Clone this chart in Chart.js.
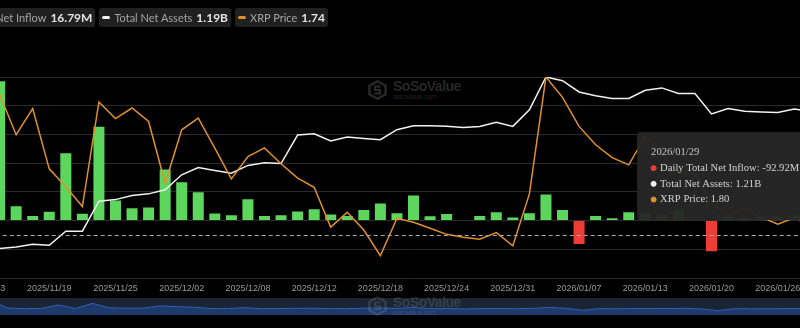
<!DOCTYPE html>
<html>
<head>
<meta charset="utf-8">
<title>XRP Spot ETF Total Net Inflow</title>
<script src="https://cdn.jsdelivr.net/npm/chart.js@4.4.1/dist/chart.umd.min.js"></script>
<style>
  html, body { margin: 0; padding: 0; background: #000; }
  body { width: 800px; height: 328px; overflow: hidden; position: relative; font-family: Lato, sans-serif; }
  #main { position: absolute; left: -26px; top: 0; z-index: 1; }
  #zoomBar { position: absolute; left: -26px; top: 298px; background: #1b2434; }
  .mark { position: absolute; display: flex; align-items: flex-start; pointer-events: none; }
  .mark svg { margin-right: 6px; }
  .mark .big { font-family: "Liberation Sans", sans-serif; font-weight: 700; font-size: 14px; line-height: 13px; letter-spacing: -0.5px; }
  .mark .small { font-family: "Liberation Sans", sans-serif; font-size: 6.5px; line-height: 7px; }
  #legend { position: absolute; top: 8px; right: 472px; display: flex; gap: 4px; z-index: 2; }
  .pill { display: flex; align-items: center; height: 19px; padding: 0 3px; background: #202020; border-radius: 3px; white-space: nowrap; }
  .pill .marker { width: 8px; height: 3.5px; border-radius: 2px; margin-right: 4px; }
  .pill .marker.square { width: 7px; height: 7px; border-radius: 1px; }
  .pill .name { font-size: 11px; color: #a3a3a3; margin-right: 4px; }
  .pill .value { font-size: 12px; font-weight: 700; color: #e4e4e4; }
</style>
</head>
<body>
<div id="legend"></div>

<div class="mark" style="left:368px; top:80px; color:rgba(255,255,255,0.16);">
  <svg width="19" height="20" viewBox="0 0 19 20"><path d="M9.5 1.2 L17.6 5.6 L17.6 14.4 L9.5 18.8 L1.4 14.4 L1.4 5.6 Z" fill="none" stroke="currentColor" stroke-width="2.4"/><path d="M12.6 6.6 H7 V10 H12 V13.4 H6.4" fill="none" stroke="currentColor" stroke-width="2"/></svg>
  <div><div class="big">SoSoValue</div><div class="small">sosovalue.com</div></div>
</div>

<canvas id="main" width="879" height="300"></canvas>
<canvas id="zoomBar" width="879" height="17"></canvas>

<div class="mark" style="left:368px; top:296px; color:rgba(255,255,255,0.12); z-index:2;">
  <svg width="19" height="20" viewBox="0 0 19 20"><path d="M9.5 1.2 L17.6 5.6 L17.6 14.4 L9.5 18.8 L1.4 14.4 L1.4 5.6 Z" fill="none" stroke="currentColor" stroke-width="2.4"/><path d="M12.6 6.6 H7 V10 H12 V13.4 H6.4" fill="none" stroke="currentColor" stroke-width="2"/></svg>
  <div><div class="big">SoSoValue</div><div class="small">sosovalue.com</div></div>
</div>

<script>
// trading days, XRP spot ETFs
const labels = [
  '2025/11/13', '2025/11/14', '2025/11/17', '2025/11/18', '2025/11/19', '2025/11/20', '2025/11/21',
  '2025/11/24', '2025/11/25', '2025/11/26', '2025/11/28', '2025/12/01', '2025/12/02', '2025/12/03',
  '2025/12/04', '2025/12/05', '2025/12/08', '2025/12/09', '2025/12/10', '2025/12/11', '2025/12/12',
  '2025/12/15', '2025/12/16', '2025/12/17', '2025/12/18', '2025/12/19', '2025/12/22', '2025/12/23',
  '2025/12/24', '2025/12/26', '2025/12/29', '2025/12/30', '2025/12/31', '2026/01/02', '2026/01/05',
  '2026/01/06', '2026/01/07', '2026/01/08', '2026/01/09', '2026/01/12', '2026/01/13', '2026/01/14',
  '2026/01/15', '2026/01/16', '2026/01/20', '2026/01/21', '2026/01/22', '2026/01/23', '2026/01/26',
  '2026/01/27', '2026/01/28', '2026/01/29', '2026/01/30'
];

// daily total net inflow, million USD
const netInflow = [
  null, 242.5, 25.0, 8.1, 15.2, 117.4, 11.7,
  163.4, 34.9, 21.5, 22.7, 89.0, 66.8, 49.4,
  12.2, 9.3, 37.2, 8.1, 9.3, 15.7, 19.8,
  10.5, 8.1, 18.6, 29.6, 12.8, 43.6, 7.5,
  11.6, 0, 8.1, 14.5, 5.2, 12.7, 45.3,
  18.6, -40.8, 8.1, 4.1, 14.5, 13.0, 10.6,
  17.0, 1.1, -53.3, 7.0, 4.5, 5.0, 7.5,
  9.0, 5.0, -92.92, 16.79
];

// total net assets, billion USD
const netAssets = [
  null, 0.406, 0.416, 0.435, 0.428, 0.526, 0.526,
  0.735, 0.746, 0.774, 0.786, 0.814, 0.919, 0.970,
  0.949, 0.930, 0.984, 1.002, 0.997, 1.196, 1.205,
  1.154, 1.182, 1.172, 1.163, 1.233, 1.260, 1.260,
  1.257, 1.249, 1.256, 1.284, 1.256, 1.372, 1.600,
  1.574, 1.496, 1.470, 1.451, 1.451, 1.508, 1.524,
  1.485, 1.485, 1.343, 1.381, 1.362, 1.357, 1.353,
  1.377, 1.360, 1.21, 1.19
];

// XRP price, USD
const xrpPrice = [
  null, 2.340, 2.199, 2.290, 2.080, 2.018, 1.949,
  2.313, 2.255, 2.292, 2.245, 2.030, 2.216, 2.257,
  2.152, 2.045, 2.123, 2.153, 2.098, 2.048, 2.016,
  1.877, 1.929, 1.867, 1.778, 1.908, 1.894, 1.873,
  1.852, 1.842, 1.835, 1.858, 1.812, 1.993, 2.400,
  2.329, 2.228, 2.164, 2.119, 2.094, 2.194, 2.13,
  2.07, 2.06, 1.96, 1.92, 1.94, 1.912, 1.887,
  1.91, 1.89, 1.80, 1.74
];

// hovered day and the pointer's level on the inflow axis
const pointerIndex = 51;
const pointerInflow = -25;

const GREEN = '#5cd65c';
const RED = '#ee3d36';
const WHITE = '#f2f2f2';
const ORANGE = '#e0912c';

const fmt = [
  v => v.toFixed(2) + 'M',
  v => v.toFixed(2) + 'B',
  v => v.toFixed(2)
];

// legend pills with the latest values
const last = arr => arr[arr.length - 1];
const legendItems = [
  { name: 'Daily Total Net Inflow', value: fmt[0](last(netInflow)), cls: 'square', color: last(netInflow) < 0 ? RED : GREEN },
  { name: 'Total Net Assets', value: fmt[1](last(netAssets)), cls: '', color: WHITE },
  { name: 'XRP Price', value: fmt[2](last(xrpPrice)), cls: '', color: ORANGE }
];
document.getElementById('legend').innerHTML = legendItems.map(it =>
  `<div class="pill"><span class="marker ${it.cls}" style="background:${it.color}"></span>` +
  `<span class="name">${it.name}</span><span class="value">${it.value}</span></div>`
).join('');

const zeroSides = scale => {
  scale.paddingLeft = 0; scale.paddingRight = 0;
  scale.paddingTop = 0; scale.paddingBottom = 0;
};

const crosshair = {
  id: 'crosshair',
  afterDatasetsDraw(chart) {
    const { ctx, chartArea, scales } = chart;
    const y = Math.round(scales.y.getPixelForValue(pointerInflow)) + 0.5;
    const x = Math.round(scales.x.getPixelForValue(pointerIndex)) + 0.5;
    ctx.save();
    ctx.strokeStyle = '#a8a8a8';
    ctx.lineWidth = 1;
    ctx.setLineDash([4, 3]);
    ctx.beginPath();
    ctx.moveTo(chartArea.left, y);
    ctx.lineTo(chartArea.right, y);
    ctx.moveTo(x, chartArea.top);
    ctx.lineTo(x, chartArea.bottom);
    ctx.stroke();
    ctx.restore();
  }
};

Chart.Tooltip.positioners.leftOfPointer = function (items) {
  if (!items.length) return false;
  const y = this.chart.scales.y.getPixelForValue(pointerInflow);
  return { x: items[0].element.x - 187, y: y - 15, xAlign: 'left', yAlign: 'bottom' };
};

const colorFor = item => {
  if (item.datasetIndex === 0) return item.raw < 0 ? RED : GREEN;
  return item.datasetIndex === 1 ? WHITE : ORANGE;
};

const chart = new Chart(document.getElementById('main'), {
  data: {
    labels: labels,
    datasets: [
      {
        type: 'bar',
        label: 'Daily Total Net Inflow',
        data: netInflow,
        yAxisID: 'y',
        order: 3,
        backgroundColor: ctx => (ctx.raw < 0 ? RED : GREEN),
        hoverBackgroundColor: ctx => (ctx.raw < 0 ? RED : GREEN),
        barPercentage: 0.665,
        categoryPercentage: 1
      },
      {
        type: 'line',
        label: 'Total Net Assets',
        data: netAssets,
        yAxisID: 'assets',
        order: 2,
        borderColor: WHITE,
        borderWidth: 1.5,
        pointRadius: 0,
        pointHoverRadius: 0,
        tension: 0
      },
      {
        type: 'line',
        label: 'XRP Price',
        data: xrpPrice,
        yAxisID: 'price',
        order: 1,
        borderColor: ORANGE,
        borderWidth: 1.5,
        pointRadius: 0,
        pointHoverRadius: 0,
        tension: 0
      }
    ]
  },
  options: {
    responsive: false,
    animation: false,
    events: [],
    layout: { padding: { top: 77, left: 0, right: 0, bottom: 0 } },
    plugins: {
      legend: { display: false },
      tooltip: {
        mode: 'index',
        position: 'leftOfPointer',
        xAlign: 'left',
        yAlign: 'bottom',
        caretSize: 0,
        caretPadding: 0,
        cornerRadius: 4,
        backgroundColor: 'rgba(39,39,39,0.96)',
        padding: { top: 14, bottom: 14, left: 14, right: 14 },
        titleFont: { family: '"Liberation Serif", serif', size: 10.6, weight: 'normal', lineHeight: 1.2 },
        titleColor: '#c2c2c2',
        titleMarginBottom: 3,
        bodyFont: { family: '"Liberation Serif", serif', size: 10.6, lineHeight: 1.2 },
        bodyColor: '#d2d2d2',
        bodySpacing: 3,
        usePointStyle: true,
        boxWidth: 5,
        boxHeight: 5,
        boxPadding: 2,
        multiKeyBackground: 'rgba(0,0,0,0)',
        callbacks: {
          title: items => labels[items[0].dataIndex],
          label: item => item.dataset.label + ': ' + fmt[item.datasetIndex](item.raw),
          labelColor: item => ({ borderColor: colorFor(item), backgroundColor: colorFor(item) }),
          labelPointStyle: () => ({ pointStyle: 'circle', rotation: 0 })
        }
      }
    },
    scales: {
      x: {
        offset: true,
        grid: { display: false, drawTicks: false },
        border: { display: false },
        ticks: {
          autoSkip: false,
          maxRotation: 0,
          padding: 5,
          color: '#999',
          font: { family: '"Liberation Sans", sans-serif', size: 9 },
          callback: (v, i) => (i % 4 === 0 ? labels[i] : '')
        },
        afterFit: scale => { zeroSides(scale); scale.height = 22; }
      },
      y: {
        position: 'left',
        min: -100,
        max: 250,
        grid: { color: '#2b2b2b', drawTicks: false },
        border: { display: false },
        ticks: { display: false, stepSize: 50 },
        afterFit: scale => { zeroSides(scale); scale.width = 0; }
      },
      assets: { display: false, position: 'right', min: 0.2, max: 1.6 },
      price: { display: false, position: 'right', min: 1.7, max: 2.4 }
    }
  },
  plugins: [crosshair]
});

chart.tooltip.setActiveElements(
  [0, 1, 2].map(d => ({ datasetIndex: d, index: pointerIndex })),
  { x: 0, y: 0 }
);
chart.update();

// range slider strip under the axis, drawn from the inflow series
new Chart(document.getElementById('zoomBar'), {
  type: 'line',
  data: {
    labels: labels,
    datasets: [{
      data: netInflow,
      borderColor: '#2f60b4',
      borderWidth: 1,
      backgroundColor: '#1e3a6b',
      fill: 'start',
      pointRadius: 0,
      tension: 0
    }]
  },
  options: {
    responsive: false,
    animation: false,
    events: [],
    layout: { padding: 0 },
    plugins: { legend: { display: false }, tooltip: { enabled: false } },
    scales: {
      x: { display: false, offset: false },
      y: { display: false, min: -180, max: 323 }
    }
  }
});
</script>
</body>
</html>
